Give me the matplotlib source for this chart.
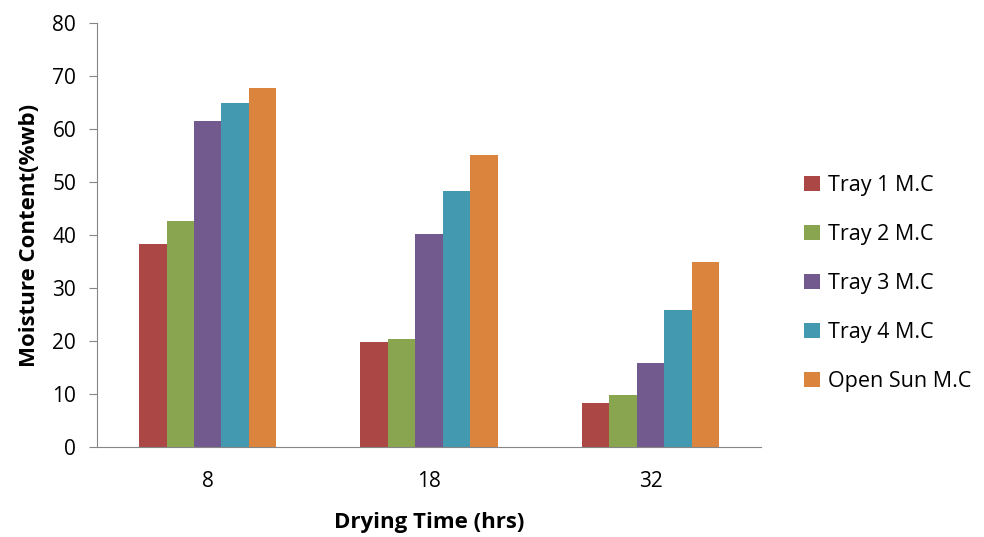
import numpy as np
import matplotlib
matplotlib.use("Agg")
import matplotlib.pyplot as plt

plt.rcParams['font.family'] = ['Open Sans', 'DejaVu Sans']

times = ['8', '18', '32']
series = ['Tray 1 M.C', 'Tray 2 M.C', 'Tray 3 M.C', 'Tray 4 M.C', 'Open Sun M.C']
tray1 = [38.3, 19.8, 8.3]
tray2 = [42.6, 20.4, 9.8]
tray3 = [61.5, 40.2, 15.8]
tray4 = [64.9, 48.3, 25.8]
open_sun = [67.7, 55.1, 34.9]
colors = ['#AB4745', '#8AA54F', '#725A8E', '#4399B0', '#DB843E']

values = [tray1, tray2, tray3, tray4, open_sun]

fig = plt.figure(figsize=(9.84, 5.37), dpi=100)
ax = fig.add_axes([0.0986, 0.1676, 0.675, 0.7894])

x = np.arange(len(times))
width = 0.124
for i, (vals, name) in enumerate(zip(values, series)):
    ax.bar(x + (i - 2) * width, vals, width, color=colors[i], label=name)

ax.set_xlim(-0.5, 2.5)
ax.set_ylim(0, 80)
ax.set_yticks(range(0, 81, 10))
ax.set_xticks(x)
ax.set_xticklabels(times)
ax.tick_params(axis='x', length=0, labelsize=15, pad=17)
ax.tick_params(axis='y', length=6, color='#868686', labelsize=15, pad=9)
for s in ['top', 'right']:
    ax.spines[s].set_visible(False)
for s in ['left', 'bottom']:
    ax.spines[s].set_color('#868686')

ax.set_xlabel('Drying Time (hrs)', fontsize=16, fontweight='bold', labelpad=15)
ax.set_ylabel('Moisture Content(%wb)', fontsize=16, fontweight='bold', labelpad=9)

fig.legend(loc='center left', bbox_to_anchor=(0.797, 0.472), frameon=False,
           fontsize=15.5, handlelength=0.75, handleheight=0.75, handletextpad=0.4,
           labelspacing=1.3)

fig.savefig('out.png', dpi=100)
